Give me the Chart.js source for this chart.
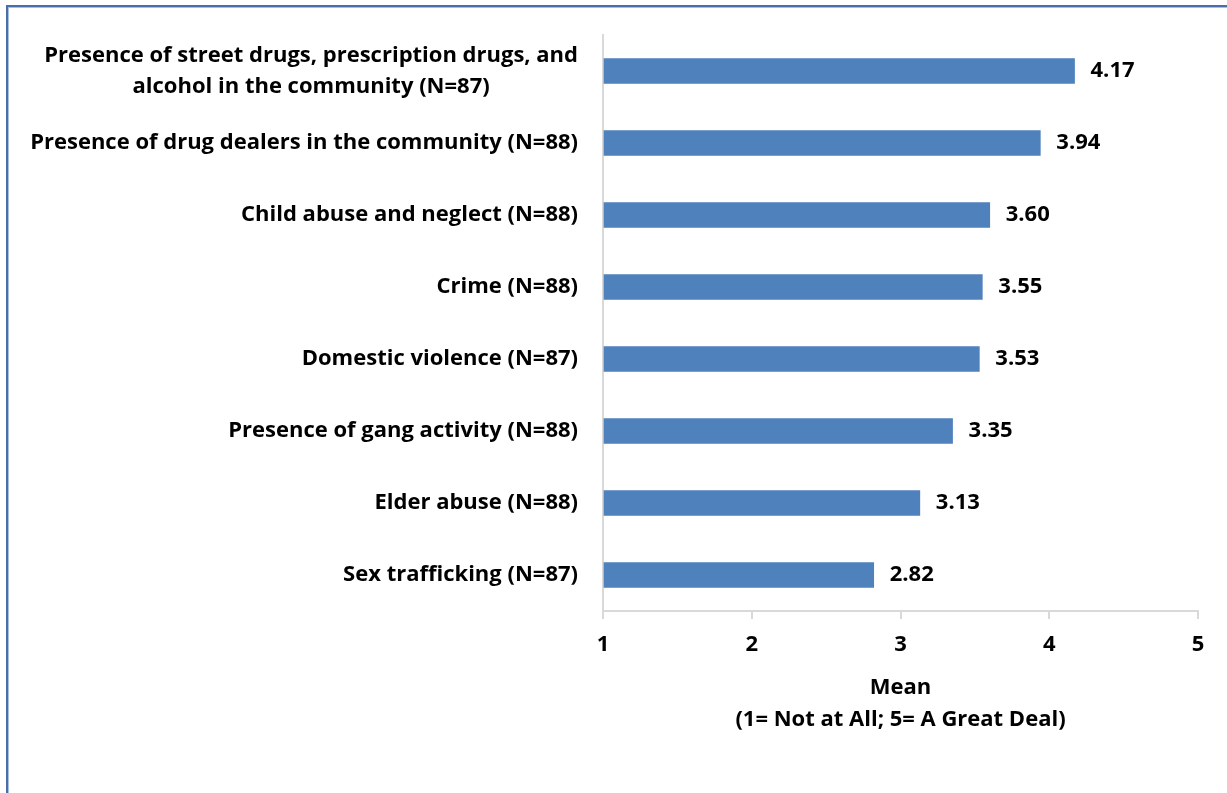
<!DOCTYPE html>
<html>
<head>
<meta charset="utf-8">
<script src="https://cdn.jsdelivr.net/npm/chart.js@4/dist/chart.umd.min.js"></script>
<style>
  html, body { margin: 0; padding: 0; background: #fff; }
  #wrap { position: relative; width: 1227px; height: 793px; overflow: hidden; }
  #frame {
    position: absolute; left: 6px; top: 5px; width: 1300px; height: 900px;
    border-left: 2px solid #4a6fa8; border-top: 2px solid #4a6fa8;
    box-shadow: inset 1px 1px 0 #a9bedf;
  }
  #chart { position: absolute; left: 0; top: 0; }
</style>
</head>
<body>
<div id="wrap">
  <div id="frame"></div>
  <canvas id="chart" width="1227" height="793"></canvas>
</div>
<script>
const categories = [
  ['Presence of street drugs, prescription drugs, and', 'alcohol in the community (N=87)'],
  'Presence of drug dealers in the community (N=88)',
  'Child abuse and neglect (N=88)',
  'Crime (N=88)',
  'Domestic violence (N=87)',
  'Presence of gang activity (N=88)',
  'Elder abuse (N=88)',
  'Sex trafficking (N=87)'
];
const means = [4.17, 3.94, 3.60, 3.55, 3.53, 3.35, 3.13, 2.82];
const xTicks = [1, 2, 3, 4, 5];
const xTitle = ['Mean', '(1= Not at All; 5= A Great Deal)'];

const FONT = '"Open Sans", "Liberation Sans", sans-serif';
const FONT_SIZE = 22;
const AXIS_GRAY = '#d9d9d9';

// category labels: right-aligned block, multi-line entries centred on their widest line
const categoryLabels = {
  id: 'categoryLabels',
  afterDraw(chart) {
    const { ctx, scales: { y } } = chart;
    const right = chart.chartArea.left - 25;
    const lineH = 31;
    ctx.save();
    ctx.font = `bold ${FONT_SIZE}px ${FONT}`;
    ctx.fillStyle = '#000';
    ctx.textBaseline = 'middle';
    categories.forEach((label, i) => {
      const lines = Array.isArray(label) ? label : [label];
      const widest = Math.max(...lines.map(l => ctx.measureText(l).width));
      const cx = right - widest / 2;
      const cy = y.getPixelForValue(i);
      ctx.textAlign = 'center';
      lines.forEach((l, k) => {
        ctx.fillText(l, cx, cy + (k - (lines.length - 1) / 2) * lineH);
      });
    });
    ctx.restore();
  }
};

// value labels just past each bar end
const valueLabels = {
  id: 'valueLabels',
  afterDatasetsDraw(chart) {
    const { ctx } = chart;
    const meta = chart.getDatasetMeta(0);
    ctx.save();
    ctx.font = `bold ${FONT_SIZE}px ${FONT}`;
    ctx.fillStyle = '#000';
    ctx.textAlign = 'left';
    ctx.textBaseline = 'middle';
    meta.data.forEach((bar, i) => {
      ctx.fillText(means[i].toFixed(2), bar.x + 16, bar.y);
    });
    ctx.restore();
  }
};

new Chart(document.getElementById('chart'), {
  type: 'bar',
  data: {
    labels: categories,
    datasets: [{
      data: means,
      base: 1,
      backgroundColor: '#4f81bd',
      barThickness: 25
    }]
  },
  options: {
    indexAxis: 'y',
    responsive: false,
    animation: false,
    layout: { padding: { top: 35, right: 29, left: 0, bottom: 0 } },
    plugins: {
      legend: { display: false },
      tooltip: { enabled: false }
    },
    scales: {
      x: {
        min: xTicks[0],
        max: xTicks[xTicks.length - 1],
        afterBuildTicks: s => { s.ticks = xTicks.map(v => ({ value: v })); },
        afterFit: s => { s.height = 182; },
        grid: {
          drawOnChartArea: false,
          drawTicks: true,
          tickLength: 8,
          color: AXIS_GRAY,
          lineWidth: 2
        },
        border: { color: AXIS_GRAY, width: 2 },
        ticks: {
          padding: 13,
          color: '#000',
          font: { family: FONT, size: FONT_SIZE, weight: 'bold' }
        },
        title: {
          display: true,
          text: xTitle,
          color: '#000',
          padding: { top: 0, bottom: 57 },
          font: { family: FONT, size: FONT_SIZE, weight: 'bold', lineHeight: 32 / FONT_SIZE }
        }
      },
      y: {
        afterFit: s => { s.width = 603; },
        grid: { display: false },
        border: { color: AXIS_GRAY, width: 2 },
        ticks: { display: false }
      }
    }
  },
  plugins: [categoryLabels, valueLabels]
});
</script>
</body>
</html>
